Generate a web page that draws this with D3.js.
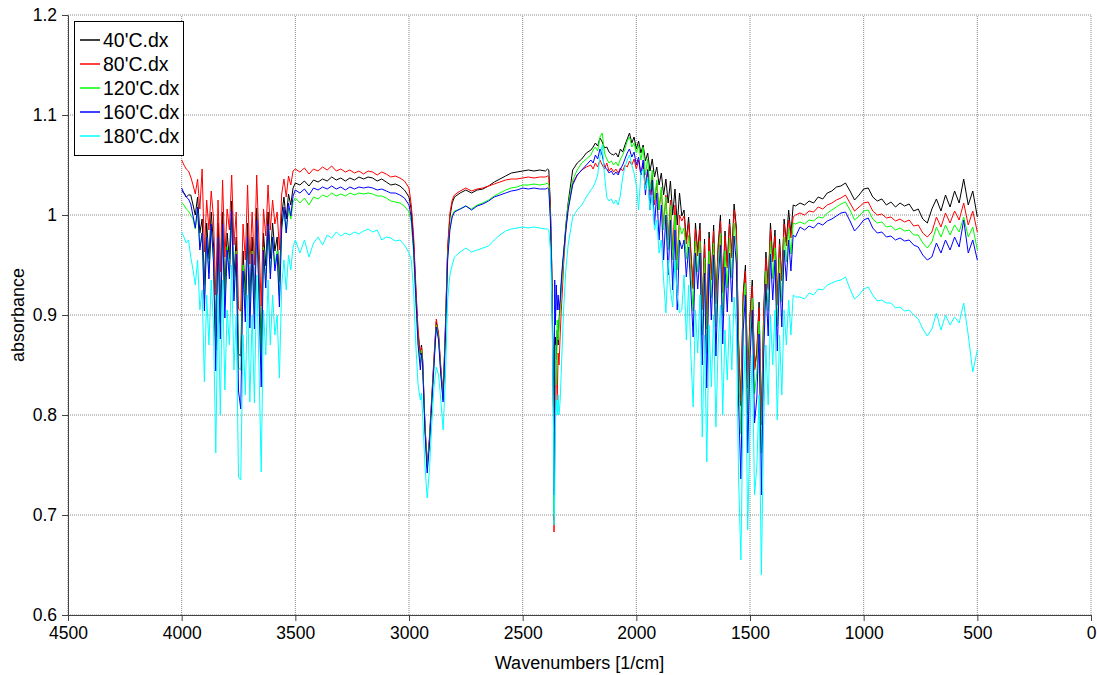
<!DOCTYPE html>
<html>
<head>
<meta charset="utf-8">
<script src="https://cdn.jsdelivr.net/npm/d3@7"></script>
<style>
  body { margin: 0; background: #fff; }
  svg { display: block; font-family: "Liberation Sans", Arial, sans-serif; }
</style>
</head>
<body>
<div id="chart"></div>
<script>
'use strict';

// wavenumbers [1/cm], shared by all five spectra
const wavenumbers = [
  4000, 3990, 3980, 3970, 3960, 3950, 3940, 3930, 3920, 3910, 3900, 3890, 3880, 3870, 3860, 3850, 3840, 3830, 3820, 3810, 3800, 3790, 3780, 3770, 3760, 3750, 3740, 3730, 3720, 3710, 3700, 3690, 3680, 3670, 3660, 3650, 3640, 3630, 3620, 3610, 3600, 3590, 3580, 3570, 3560, 3550, 3540, 3530, 3520, 3510, 3500,
  3480, 3460, 3440, 3420, 3400, 3380, 3360, 3340, 3320, 3300, 3280, 3260, 3240, 3220, 3200, 3180, 3160, 3140, 3120, 3100, 3080, 3060, 3040, 3020, 3000,
  2990, 2980, 2970, 2960, 2950, 2945, 2940, 2930, 2920, 2910, 2900, 2890, 2880, 2870, 2860, 2850, 2840, 2830, 2820, 2810, 2800,
  2775, 2750, 2725, 2700, 2675, 2650, 2625, 2600, 2575, 2550, 2525, 2500, 2475, 2450, 2425, 2400, 2390,
  2385, 2378, 2372, 2368, 2364, 2362, 2359, 2356, 2352, 2348, 2344, 2340, 2335, 2330, 2325, 2320, 2310, 2300,
  2280, 2260, 2240, 2220, 2200, 2190, 2180, 2170, 2160, 2150, 2140, 2130, 2120, 2110, 2100, 2090, 2080, 2070, 2060, 2050, 2040, 2030, 2020, 2010, 2000, 1990, 1980, 1970, 1960, 1950, 1940, 1930, 1920, 1910, 1900, 1890, 1880, 1870, 1860, 1850, 1840, 1830, 1820, 1810,
  1800, 1790, 1780, 1770, 1760, 1750, 1740, 1730, 1720, 1710, 1700, 1690, 1680, 1670, 1660, 1650, 1640, 1630, 1620, 1610, 1600, 1590, 1580, 1570, 1560, 1550, 1540, 1530, 1520, 1510, 1500, 1490, 1480, 1470, 1460, 1450, 1440, 1430, 1420, 1410, 1400, 1390, 1380, 1370, 1360, 1350, 1340, 1330, 1320, 1310, 1300,
  1280, 1260, 1240, 1220, 1200, 1180, 1160, 1140, 1120, 1100, 1080, 1060, 1040, 1020, 1000, 980, 960, 940, 920, 900, 880, 860, 840, 820, 800, 780, 760, 740, 720, 700, 680, 660, 640, 620, 600, 580, 560, 540, 520, 500
];

const abs40 = [
  1.024, 1.022, 1.018, 1.020, 1.020, 1.010, 1.000, 1.018, 0.982, 0.996, 0.930, 0.992, 0.956, 1.003, 0.971, 0.879, 0.992, 0.906, 1.003, 0.924, 0.982, 0.956, 1.014, 0.938, 0.978, 0.861, 0.859, 0.964, 0.920, 0.992, 0.915, 0.978, 0.915, 1.007, 0.942, 0.865, 0.982, 0.949, 1.003, 0.956, 0.992, 0.964, 0.978, 0.933, 1.000, 1.018, 0.996, 1.021, 1.010, 1.027, 1.032,
  1.030, 1.034, 1.029, 1.035, 1.033, 1.036, 1.034, 1.038, 1.035, 1.037, 1.034, 1.037, 1.035, 1.038, 1.036, 1.038, 1.037, 1.034, 1.036, 1.033, 1.030, 1.031, 1.029, 1.025, 1.018,
  1.005, 0.975, 0.925, 0.880, 0.860, 0.870, 0.855, 0.790, 0.748, 0.775, 0.815, 0.855, 0.893, 0.880, 0.845, 0.818, 0.885, 0.965, 0.998, 1.012, 1.018,
  1.022, 1.025, 1.022, 1.025, 1.026, 1.029, 1.033, 1.036, 1.039, 1.042, 1.043, 1.044, 1.045, 1.044, 1.045, 1.044, 1.046,
  1.045, 1.010, 0.950, 0.880, 0.800, 0.695, 0.870, 0.878, 0.855, 0.885, 0.870, 0.895, 0.910, 0.930, 0.945, 0.960, 0.990, 1.012,
  1.045, 1.052, 1.056, 1.062, 1.065, 1.068, 1.072, 1.069, 1.077, 1.073, 1.067, 1.068, 1.063, 1.061, 1.060, 1.062, 1.058, 1.066, 1.063, 1.070, 1.076, 1.082, 1.072, 1.078, 1.066, 1.074, 1.062, 1.070, 1.054, 1.062, 1.044, 1.056, 1.038, 1.048, 1.030, 1.042, 1.020, 1.036, 1.012, 1.034, 1.000, 1.026, 0.990, 1.022,
  0.999, 1.005, 0.975, 0.998, 0.963, 0.927, 0.992, 0.963, 0.992, 0.905, 0.976, 0.886, 0.983, 0.938, 0.990, 0.912, 0.970, 1.000, 0.923, 0.984, 0.949, 0.996, 0.959, 1.011, 0.988, 0.870, 0.809, 0.922, 0.950, 0.827, 0.899, 0.935, 0.845, 0.864, 0.913, 0.790, 0.901, 0.963, 0.927, 0.992, 0.956, 0.985, 0.912, 0.976, 0.935, 0.996, 0.973, 1.005, 0.981, 1.010, 1.009,
  1.012, 1.010, 1.014, 1.012, 1.018, 1.016, 1.022, 1.024, 1.028, 1.029, 1.032, 1.024, 1.015, 1.020, 1.026, 1.027, 1.018, 1.014, 1.016, 1.010, 1.013, 1.008, 1.012, 1.009, 1.011, 1.004, 1.006, 0.996, 0.992, 1.006, 1.016, 1.004, 1.020, 1.008, 1.024, 1.012, 1.036, 1.010, 1.024, 0.998
];

const abs80 = [
  1.055, 1.050, 1.046, 1.044, 1.038, 1.030, 1.021, 1.036, 1.006, 1.046, 0.963, 1.015, 0.985, 1.024, 0.997, 0.920, 1.015, 0.943, 1.035, 0.958, 1.006, 0.985, 1.040, 0.970, 1.003, 0.906, 0.904, 0.991, 0.955, 1.030, 0.951, 1.003, 0.950, 1.040, 0.973, 0.909, 1.006, 0.979, 1.030, 0.985, 1.015, 0.991, 1.003, 0.965, 1.021, 1.036, 1.018, 1.039, 1.030, 1.044, 1.046,
  1.043, 1.047, 1.041, 1.046, 1.044, 1.048, 1.045, 1.049, 1.044, 1.046, 1.043, 1.045, 1.042, 1.044, 1.041, 1.044, 1.043, 1.040, 1.043, 1.041, 1.038, 1.039, 1.037, 1.034, 1.027,
  1.010, 0.980, 0.930, 0.885, 0.862, 0.868, 0.856, 0.792, 0.750, 0.778, 0.818, 0.858, 0.896, 0.882, 0.848, 0.820, 0.888, 0.968, 1.002, 1.015, 1.020,
  1.024, 1.027, 1.024, 1.026, 1.027, 1.029, 1.031, 1.033, 1.035, 1.036, 1.036, 1.037, 1.038, 1.037, 1.038, 1.038, 1.039,
  1.038, 1.005, 0.945, 0.870, 0.780, 0.683, 0.760, 0.830, 0.845, 0.815, 0.862, 0.850, 0.880, 0.905, 0.925, 0.950, 0.985, 1.008,
  1.032, 1.040, 1.045, 1.048, 1.050, 1.046, 1.052, 1.048, 1.055, 1.050, 1.046, 1.052, 1.044, 1.047, 1.043, 1.046, 1.042, 1.047, 1.044, 1.050, 1.048, 1.054, 1.050, 1.056, 1.046, 1.055, 1.040, 1.052, 1.030, 1.046, 1.020, 1.040, 1.010, 1.032, 1.005, 1.025, 0.990, 1.020, 0.975, 1.015, 0.965, 1.010, 0.955, 1.000,
  0.994, 0.999, 0.971, 0.992, 0.960, 0.926, 0.986, 0.959, 0.986, 0.905, 0.971, 0.888, 0.977, 0.935, 0.984, 0.911, 0.966, 0.994, 0.922, 0.979, 0.947, 0.991, 0.957, 1.005, 0.983, 0.871, 0.814, 0.918, 0.944, 0.830, 0.897, 0.929, 0.845, 0.862, 0.907, 0.794, 0.898, 0.957, 0.925, 0.986, 0.953, 0.979, 0.910, 0.971, 0.934, 0.991, 0.969, 0.995, 0.977, 0.998, 1.000,
  1.002, 1.000, 1.004, 1.003, 1.008, 1.006, 1.010, 1.012, 1.015, 1.017, 1.020, 1.012, 1.004, 1.008, 1.012, 1.013, 1.004, 1.000, 1.001, 0.997, 0.998, 0.994, 0.996, 0.993, 0.995, 0.989, 0.990, 0.982, 0.978, 0.983, 0.998, 0.988, 1.002, 0.992, 1.004, 0.995, 1.012, 0.990, 1.004, 0.983
];

const abs120 = [
  1.012, 1.010, 1.006, 1.004, 1.000, 0.996, 0.986, 1.004, 0.968, 0.982, 0.916, 0.978, 0.942, 0.989, 0.957, 0.865, 0.978, 0.892, 0.989, 0.910, 0.968, 0.942, 1.000, 0.924, 0.964, 0.847, 0.845, 0.950, 0.906, 0.978, 0.901, 0.964, 0.901, 0.993, 0.928, 0.851, 0.968, 0.935, 0.989, 0.942, 0.978, 0.950, 0.964, 0.919, 0.986, 1.004, 0.982, 1.007, 0.996, 1.013, 1.017,
  1.012, 1.017, 1.010, 1.018, 1.016, 1.020, 1.018, 1.022, 1.019, 1.021, 1.019, 1.022, 1.020, 1.022, 1.021, 1.022, 1.021, 1.019, 1.019, 1.017, 1.014, 1.013, 1.012, 1.009, 1.003,
  0.993, 0.962, 0.915, 0.872, 0.852, 0.865, 0.852, 0.788, 0.746, 0.773, 0.812, 0.852, 0.890, 0.877, 0.842, 0.815, 0.878, 0.958, 0.988, 1.000, 1.004,
  1.006, 1.009, 1.006, 1.010, 1.012, 1.015, 1.019, 1.022, 1.025, 1.027, 1.028, 1.030, 1.030, 1.031, 1.030, 1.031, 1.032,
  1.030, 0.998, 0.935, 0.860, 0.790, 0.700, 0.780, 0.870, 0.830, 0.895, 0.875, 0.890, 0.905, 0.925, 0.940, 0.958, 0.988, 1.010,
  1.035, 1.045, 1.052, 1.056, 1.060, 1.065, 1.068, 1.064, 1.078, 1.082, 1.062, 1.056, 1.052, 1.054, 1.050, 1.053, 1.049, 1.056, 1.060, 1.066, 1.074, 1.078, 1.068, 1.072, 1.062, 1.070, 1.055, 1.068, 1.040, 1.056, 1.025, 1.045, 1.015, 1.035, 1.005, 1.028, 0.985, 1.018, 0.965, 1.010, 0.955, 1.000, 0.945, 0.990,
  0.981, 0.987, 0.956, 0.980, 0.943, 0.904, 0.974, 0.943, 0.974, 0.880, 0.957, 0.861, 0.964, 0.917, 0.972, 0.888, 0.951, 0.982, 0.899, 0.964, 0.927, 0.977, 0.937, 0.992, 0.968, 0.844, 0.781, 0.902, 0.932, 0.800, 0.878, 0.917, 0.821, 0.842, 0.894, 0.762, 0.879, 0.944, 0.904, 0.974, 0.936, 0.967, 0.889, 0.957, 0.913, 0.978, 0.953, 0.987, 0.961, 0.992, 0.991,
  0.993, 0.991, 0.995, 0.994, 0.998, 0.997, 1.002, 1.005, 1.008, 1.011, 1.013, 1.005, 0.995, 0.999, 1.004, 1.005, 0.996, 0.992, 0.993, 0.988, 0.989, 0.985, 0.987, 0.984, 0.985, 0.980, 0.980, 0.972, 0.967, 0.973, 0.988, 0.978, 0.990, 0.980, 0.990, 0.983, 0.998, 0.978, 0.988, 0.965
];

const abs160 = [
  1.027, 1.022, 1.018, 1.016, 1.011, 0.999, 0.987, 1.008, 0.965, 0.982, 0.904, 0.978, 0.936, 0.991, 0.953, 0.844, 0.978, 0.876, 0.991, 0.897, 0.965, 0.936, 1.004, 0.914, 0.961, 0.824, 0.806, 0.944, 0.893, 0.978, 0.887, 0.961, 0.886, 0.995, 0.919, 0.828, 0.965, 0.927, 0.991, 0.936, 0.978, 0.944, 0.961, 0.908, 0.987, 1.008, 0.982, 1.012, 0.999, 1.019, 1.025,
  1.022, 1.026, 1.020, 1.027, 1.025, 1.028, 1.026, 1.029, 1.026, 1.028, 1.025, 1.028, 1.026, 1.028, 1.027, 1.028, 1.027, 1.025, 1.026, 1.024, 1.022, 1.022, 1.020, 1.017, 1.010,
  0.998, 0.968, 0.918, 0.870, 0.845, 0.862, 0.850, 0.785, 0.742, 0.770, 0.810, 0.850, 0.888, 0.875, 0.840, 0.813, 0.875, 0.955, 0.985, 0.998, 1.003,
  1.006, 1.009, 1.005, 1.009, 1.011, 1.014, 1.018, 1.020, 1.022, 1.024, 1.025, 1.027, 1.026, 1.027, 1.026, 1.026, 1.027,
  1.026, 0.995, 0.935, 0.880, 0.820, 0.720, 0.935, 0.890, 0.930, 0.905, 0.920, 0.905, 0.915, 0.935, 0.950, 0.962, 0.985, 1.005,
  1.030, 1.040, 1.045, 1.050, 1.055, 1.052, 1.060, 1.056, 1.066, 1.060, 1.048, 1.046, 1.042, 1.044, 1.040, 1.043, 1.040, 1.046, 1.050, 1.056, 1.062, 1.066, 1.058, 1.063, 1.050, 1.058, 1.040, 1.055, 1.020, 1.045, 1.005, 1.035, 0.990, 1.022, 0.975, 1.010, 0.955, 1.000, 0.940, 0.995, 0.925, 0.985, 0.905, 0.975,
  0.966, 0.975, 0.938, 0.968, 0.924, 0.878, 0.962, 0.926, 0.962, 0.850, 0.942, 0.827, 0.951, 0.895, 0.960, 0.859, 0.933, 0.970, 0.871, 0.948, 0.903, 0.962, 0.913, 0.979, 0.951, 0.810, 0.736, 0.884, 0.920, 0.762, 0.856, 0.905, 0.792, 0.817, 0.881, 0.720, 0.857, 0.931, 0.879, 0.961, 0.915, 0.955, 0.864, 0.942, 0.888, 0.965, 0.934, 0.975, 0.944, 0.980, 0.978,
  0.988, 0.985, 0.989, 0.987, 0.992, 0.990, 0.994, 0.996, 0.999, 1.002, 1.003, 0.994, 0.984, 0.989, 0.995, 0.997, 0.987, 0.982, 0.983, 0.978, 0.979, 0.975, 0.977, 0.974, 0.975, 0.970, 0.968, 0.960, 0.955, 0.958, 0.972, 0.962, 0.975, 0.965, 0.978, 0.968, 0.995, 0.962, 0.975, 0.955
];

const abs180 = [
  0.983, 0.978, 0.972, 0.975, 0.958, 0.945, 0.930, 0.955, 0.905, 0.925, 0.833, 0.920, 0.870, 0.935, 0.890, 0.762, 0.920, 0.800, 0.935, 0.825, 0.905, 0.870, 0.950, 0.845, 0.900, 0.738, 0.735, 0.880, 0.820, 0.920, 0.813, 0.900, 0.812, 0.940, 0.850, 0.743, 0.905, 0.860, 0.935, 0.870, 0.920, 0.880, 0.900, 0.837, 0.930, 0.955, 0.925, 0.960, 0.945, 0.968, 0.975,
  0.962, 0.975, 0.958, 0.972, 0.978, 0.970, 0.980, 0.977, 0.983, 0.979, 0.982, 0.980, 0.983, 0.981, 0.984, 0.986, 0.983, 0.985, 0.975, 0.978, 0.977, 0.974, 0.975, 0.970, 0.962,
  0.955, 0.925, 0.870, 0.830, 0.815, 0.822, 0.800, 0.750, 0.717, 0.745, 0.790, 0.828, 0.848, 0.840, 0.815, 0.785, 0.835, 0.915, 0.940, 0.950, 0.958,
  0.963, 0.967, 0.963, 0.965, 0.967, 0.969, 0.975, 0.980, 0.984, 0.986, 0.987, 0.988, 0.987, 0.988, 0.987, 0.986, 0.986,
  0.985, 0.965, 0.920, 0.860, 0.780, 0.690, 0.720, 0.790, 0.815, 0.800, 0.820, 0.800, 0.815, 0.845, 0.875, 0.905, 0.945, 0.970,
  0.998, 1.005, 1.010, 1.018, 1.025, 1.028, 1.033, 1.040, 1.058, 1.070, 1.040, 1.018, 1.014, 1.016, 1.011, 1.015, 1.010, 1.020, 1.038, 1.048, 1.055, 1.060, 1.050, 1.042, 1.030, 1.005, 1.042, 1.046, 1.025, 1.038, 1.005, 1.020, 0.985, 0.995, 0.962, 0.975, 0.935, 0.902, 0.955, 0.925, 0.908, 0.955, 0.920, 0.902,
  0.905, 0.940, 0.875, 0.930, 0.860, 0.808, 0.905, 0.862, 0.920, 0.778, 0.880, 0.753, 0.890, 0.828, 0.900, 0.788, 0.870, 0.910, 0.800, 0.885, 0.835, 0.900, 0.845, 0.918, 0.888, 0.735, 0.655, 0.820, 0.870, 0.685, 0.790, 0.860, 0.720, 0.748, 0.820, 0.640, 0.790, 0.870, 0.810, 0.900, 0.850, 0.905, 0.795, 0.880, 0.820, 0.905, 0.870, 0.915, 0.880, 0.920, 0.918,
  0.918, 0.916, 0.922, 0.920, 0.926, 0.925, 0.930, 0.932, 0.934, 0.935, 0.938, 0.926, 0.916, 0.920, 0.926, 0.928, 0.920, 0.914, 0.915, 0.912, 0.912, 0.907, 0.908, 0.904, 0.905, 0.900, 0.896, 0.886, 0.879, 0.886, 0.902, 0.885, 0.900, 0.890, 0.898, 0.892, 0.912, 0.880, 0.843, 0.865
];

const seriesNames = ["40'C.dx", "80'C.dx", "120'C.dx", "160'C.dx", "180'C.dx"];
const xTicks = [4500, 4000, 3500, 3000, 2500, 2000, 1500, 1000, 500, 0];
const yTicks = [0.6, 0.7, 0.8, 0.9, 1, 1.1, 1.2];

const colors = ['#000000', '#ff0000', '#00ff00', '#0000ff', '#00ffff'];
const WIDTH = 1097;
const HEIGHT = 675;
const margin = {top: 15, right: 6, bottom: 60, left: 68};

let series = [abs40, abs80, abs120, abs160, abs180].map(function (vals, i) {
    return {
        name: seriesNames[i],
        color: colors[i],
        points: wavenumbers.map(function (w, j) { return [w, vals[j]]; })
    };
});

let svg = d3.select('#chart').append('svg')
    .attr('width', WIDTH)
    .attr('height', HEIGHT);

let x = d3.scaleLinear().domain([4500, 0]).range([margin.left, WIDTH - margin.right]);
let y = d3.scaleLinear().domain([0.6, 1.2]).range([HEIGHT - margin.bottom, margin.top]);

// dotted grid
let grid = svg.append('g');
grid.selectAll('line.gx').data(xTicks).enter().append('line')
    .attr('x1', function (d) { return x(d); })
    .attr('x2', function (d) { return x(d); })
    .attr('y1', y(0.6))
    .attr('y2', y(1.2));
grid.selectAll('line.gy').data(yTicks).enter().append('line')
    .attr('x1', x(4500))
    .attr('x2', x(0))
    .attr('y1', function (d) { return y(d); })
    .attr('y2', function (d) { return y(d); });
grid.selectAll('line')
    .style('stroke', '#8a8a8a')
    .style('stroke-width', 1)
    .style('stroke-dasharray', '1,1');

// spectra
let line = d3.line()
    .x(function (d) { return x(d[0]); })
    .y(function (d) { return y(d[1]); });

svg.append('g').selectAll('path').data(series).enter().append('path')
    .attr('d', function (d) { return line(d.points); })
    .style('fill', 'none')
    .style('stroke', function (d) { return d.color; })
    .style('stroke-width', 1);

// axes
let xAxis = svg.append('g')
    .attr('transform', 'translate(0,' + y(0.6) + ')')
    .call(d3.axisBottom(x).tickValues(xTicks).tickSize(6).tickSizeOuter(0).tickPadding(6)
        .tickFormat(function (d) { return String(d); }));
let yAxis = svg.append('g')
    .attr('transform', 'translate(' + x(4500) + ',0)')
    .call(d3.axisLeft(y).tickValues(yTicks).tickSize(6).tickSizeOuter(0).tickPadding(5)
        .tickFormat(function (d) { return String(d); }));

[xAxis, yAxis].forEach(function (a) {
    a.selectAll('path, line').style('stroke', '#444');
    a.selectAll('text')
        .style('font-family', '"Liberation Sans", Arial, sans-serif')
        .style('font-size', '17.5px')
        .style('fill', '#000');
});

svg.append('text')
    .attr('x', (x(4500) + x(0)) / 2)
    .attr('y', 669)
    .attr('text-anchor', 'middle')
    .style('font-size', '18px')
    .text('Wavenumbers [1/cm]');

svg.append('text')
    .attr('transform', 'translate(24,' + y(0.9) + ') rotate(-90)')
    .attr('text-anchor', 'middle')
    .style('font-size', '18px')
    .text('absorbance');

// legend
let legend = svg.append('g');
legend.append('rect')
    .attr('x', 74.5)
    .attr('y', 21.5)
    .attr('width', 109)
    .attr('height', 134)
    .style('fill', '#fff')
    .style('stroke', '#000')
    .style('stroke-width', 1);

let items = legend.selectAll('g.item').data(series).enter().append('g')
    .attr('transform', function (d, i) { return 'translate(0,' + (40 + i * 24) + ')'; });
items.append('line')
    .attr('x1', 80)
    .attr('x2', 100)
    .style('stroke', function (d) { return d.color; })
    .style('stroke-width', 1.5);
items.append('text')
    .attr('x', 103)
    .attr('dy', '0.35em')
    .style('font-size', '19.5px')
    .text(function (d) { return d.name; });
</script>
</body>
</html>
